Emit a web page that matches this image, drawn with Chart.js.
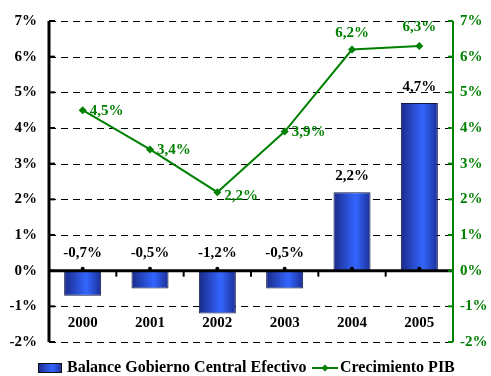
<!DOCTYPE html>
<html>
<head>
<meta charset="utf-8">
<script src="https://cdn.jsdelivr.net/npm/chart.js@4/dist/chart.umd.min.js"></script>
<style>
  html, body { margin: 0; padding: 0; background: #fff; }
  #wrap { width: 491px; height: 376px; }
</style>
</head>
<body>
<div id="wrap"><canvas id="myChart"></canvas></div>
<script>
const anios = ['2000', '2001', '2002', '2003', '2004', '2005'];
const balance = [-0.7, -0.5, -1.2, -0.5, 2.2, 4.7];
const pib = [4.5, 3.4, 2.2, 3.9, 6.2, 6.3];
const ejeMin = -2;
const ejeMax = 7;

const fuente = '"Liberation Serif", "DejaVu Serif", serif';
const verde = '#008000';

const pct = v => v.toFixed(1).replace('.', ',') + '%';

function degradado(c, x0, x1) {
    const g = c.createLinearGradient(x0, 0, x1, 0);
    g.addColorStop(0, '#1a2a8a');
    g.addColorStop(0.6, '#3366ff');
    g.addColorStop(1, '#1c2f96');
    return g;
}

// rejilla, barras con degradado, lineas de ejes, etiquetas y leyenda
const extras = {
    id: 'extras',
    beforeDatasetsDraw(chart) {
        const c = chart.ctx;
        const a = chart.chartArea;
        const y = chart.scales.y;
        c.save();
        c.strokeStyle = '#000';
        c.lineWidth = 1;
        c.setLineDash([7, 5]);
        for (let v = ejeMin; v <= ejeMax; v++) {
            const py = Math.round(y.getPixelForValue(v)) + 0.5;
            c.beginPath(); c.moveTo(a.left, py); c.lineTo(a.right, py); c.stroke();
        }
        c.restore();

        chart.getDatasetMeta(0).data.forEach(bar => {
            bar.options.backgroundColor = degradado(c, bar.x - bar.width / 2, bar.x + bar.width / 2);
        });
    },
    afterDatasetsDraw(chart) {
        const c = chart.ctx;
        const a = chart.chartArea;
        const y = chart.scales.y;
        const x = chart.scales.x;
        const y0 = y.getPixelForValue(0);
        c.save();

        // linea del cero y marcas entre categorias
        c.strokeStyle = '#000';
        c.lineWidth = 3;
        c.beginPath(); c.moveTo(a.left, y0); c.lineTo(a.right, y0); c.stroke();
        c.lineWidth = 2;
        for (let i = 1; i < anios.length; i++) {
            const xb = (x.getPixelForValue(i - 1) + x.getPixelForValue(i)) / 2;
            c.beginPath(); c.moveTo(xb, y0); c.lineTo(xb, y0 + 6); c.stroke();
        }
        c.fillStyle = '#000';
        anios.forEach((t, i) => {
            c.beginPath(); c.arc(x.getPixelForValue(i), y0 - 2, 2, 0, Math.PI * 2); c.fill();
        });

        // eje izquierdo
        c.lineWidth = 3;
        c.beginPath(); c.moveTo(a.left, a.top); c.lineTo(a.left, a.bottom); c.stroke();
        c.lineWidth = 2;
        for (let v = ejeMin; v <= ejeMax; v++) {
            const py = y.getPixelForValue(v);
            c.beginPath(); c.moveTo(a.left, py); c.lineTo(a.left + 6, py); c.stroke();
        }

        // eje derecho
        const y1 = chart.scales.y1;
        c.strokeStyle = verde;
        c.lineWidth = 2;
        c.beginPath(); c.moveTo(a.right, a.top); c.lineTo(a.right, a.bottom); c.stroke();
        for (let v = ejeMin; v <= ejeMax; v++) {
            const py = y1.getPixelForValue(v);
            c.beginPath(); c.moveTo(a.right - 5, py); c.lineTo(a.right, py); c.stroke();
        }

        // etiquetas de categoria
        c.font = 'bold 15px ' + fuente;
        c.fillStyle = '#000';
        c.textAlign = 'center';
        c.textBaseline = 'middle';
        anios.forEach((t, i) => {
            c.fillText(t, x.getPixelForValue(i), y.getPixelForValue(-1.48));
        });

        // valores del balance
        chart.getDatasetMeta(0).data.forEach((bar, i) => {
            const v = balance[i];
            const py = v >= 0 ? bar.y - 16 : y0 - 18;
            c.fillText(pct(v), bar.x, py);
        });

        // valores del PIB
        c.fillStyle = verde;
        chart.getDatasetMeta(1).data.forEach((pt, i) => {
            if (i >= 4) {
                c.textAlign = 'center';
                c.fillText(pct(pib[i]), pt.x, pt.y - (i === 5 ? 19 : 16));
            } else {
                c.textAlign = 'left';
                c.fillText(pct(pib[i]), pt.x + 7, pt.y + (i === 2 ? 4 : 1));
            }
        });
        c.restore();
    },
    afterDraw(chart) {
        const c = chart.ctx;
        const ly = 368;
        c.save();
        c.font = 'bold 16px ' + fuente;
        c.textBaseline = 'middle';
        c.textAlign = 'left';

        // muestra de las barras
        c.fillStyle = degradado(c, 38, 62);
        c.fillRect(38, ly - 5, 24, 10);
        c.strokeStyle = '#111';
        c.lineWidth = 1;
        c.strokeRect(38.5, ly - 4.5, 23, 9);
        c.fillStyle = '#000';
        c.fillText(chart.data.datasets[0].label, 67, ly);

        // muestra de la linea
        c.strokeStyle = verde;
        c.lineWidth = 2;
        c.beginPath(); c.moveTo(312, ly); c.lineTo(338, ly); c.stroke();
        c.fillStyle = verde;
        c.beginPath();
        c.moveTo(325, ly - 3.5); c.lineTo(328.5, ly); c.lineTo(325, ly + 3.5); c.lineTo(321.5, ly);
        c.closePath(); c.fill();
        c.fillStyle = '#000';
        c.fillText(chart.data.datasets[1].label, 340, ly);
        c.restore();
    }
};

const ctx = document.getElementById('myChart').getContext('2d');
const myChart = new Chart(ctx, {
    data: {
        labels: anios,
        datasets: [{
            type: 'bar',
            label: 'Balance Gobierno Central Efectivo',
            data: balance,
            yAxisID: 'y',
            // funcion para que cada barra tenga sus propias opciones
            backgroundColor: () => '#3366ff',
            borderColor: '#111a44',
            borderWidth: 1,
            borderSkipped: false,
            categoryPercentage: 1,
            barPercentage: 0.55,
            order: 2
        },
        {
            type: 'line',
            label: 'Crecimiento PIB',
            data: pib,
            yAxisID: 'y1',
            borderColor: verde,
            backgroundColor: verde,
            borderWidth: 2,
            pointStyle: 'rectRot',
            pointRadius: 4,
            pointBorderWidth: 0,
            tension: 0,
            order: 1
        }]
    },
    options: {
        responsive: true,
        maintainAspectRatio: false,
        animation: false,
        layout: { padding: { top: 19, bottom: 34, left: 0, right: 0 } },
        plugins: {
            legend: { display: false },
            tooltip: { enabled: false }
        },
        scales: {
            x: { display: false },
            y: {
                position: 'left',
                min: ejeMin,
                max: ejeMax,
                afterFit: s => { s.width = 49; },
                ticks: {
                    stepSize: 1,
                    padding: 12,
                    color: '#000',
                    font: { family: fuente, size: 15, weight: 'bold' },
                    callback: v => v + '%'
                },
                grid: { display: false, drawTicks: false },
                border: { display: false }
            },
            y1: {
                position: 'right',
                min: ejeMin,
                max: ejeMax,
                afterFit: s => { s.width = 38; },
                ticks: {
                    stepSize: 1,
                    padding: 7,
                    color: verde,
                    font: { family: fuente, size: 15, weight: 'bold' },
                    callback: v => v + '%'
                },
                grid: { display: false, drawTicks: false },
                border: { display: false }
            }
        }
    },
    plugins: [extras]
});
</script>
</body>
</html>
